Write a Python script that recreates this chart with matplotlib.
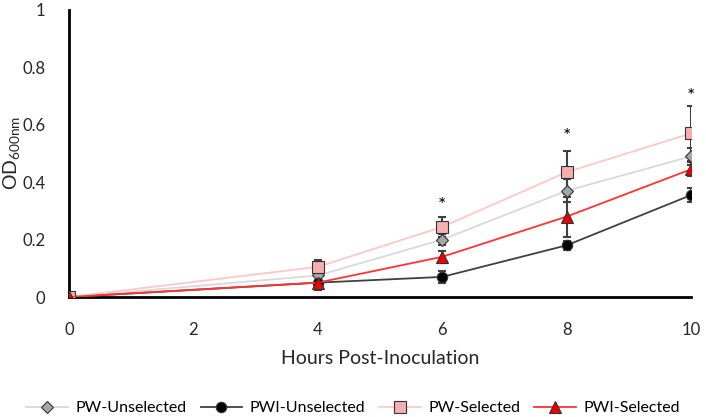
import matplotlib
matplotlib.use("Agg")
import matplotlib.pyplot as plt

plt.rcParams['font.family'] = ['Lato', 'DejaVu Sans']

hours = [0, 4, 6, 8, 10]
series_names = ["PW-Unselected", "PWI-Unselected", "PW-Selected", "PWI-Selected"]
pw_unsel = [0.0, 0.075, 0.20, 0.37, 0.49]
pw_unsel_err = [0.0, 0.02, 0.02, 0.04, 0.03]
pwi_unsel = [0.0, 0.05, 0.07, 0.18, 0.355]
pwi_unsel_err = [0.0, 0.01, 0.02, 0.015, 0.025]
pw_sel = [0.0, 0.105, 0.244, 0.435, 0.57]
pw_sel_err = [0.0, 0.025, 0.035, 0.075, 0.095]
pwi_sel = [0.0, 0.05, 0.14, 0.28, 0.445]
pwi_sel_err = [0.0, 0.025, 0.02, 0.07, 0.025]
star_hours = [6, 8, 10]
star_y = [0.32, 0.56, 0.70]

fig = plt.figure(figsize=(7.06, 4.17), dpi=100)
ax = fig.add_axes([69/706, 1 - 297/417, 622/706, 287/417])

styles = [
    (pw_unsel, pw_unsel_err, "#d9d9d9", "D", "#a6a6a6", 6),
    (pwi_unsel, pwi_unsel_err, "#404040", "o", "black", 7.5),
    (pw_sel, pw_sel_err, "#ffc7c7", "s", "#f4b0b0", 8),
    (pwi_sel, pwi_sel_err, "#ff3333", "^", "#ee0000", 8),
]
for (vals, errs, lc, mk, mc, ms), name in zip(styles, series_names):
    ax.errorbar(hours, vals, yerr=errs, fmt='none', ecolor='#404040',
                elinewidth=1.5, capsize=3, capthick=1.5, zorder=2)
    ax.plot(hours, vals, color=lc, lw=1.3, marker=mk, markersize=ms,
            markerfacecolor=mc, markeredgecolor='#333333', markeredgewidth=0.8,
            label=name, zorder=3)

for h, y in zip(star_hours, star_y):
    ax.text(h, y, "*", ha='center', va='center', fontsize=14)

ax.set_xlim(0, 10)
ax.set_ylim(0, 1)
ax.set_xticks([0, 2, 4, 6, 8, 10])
ax.set_yticks([0, 0.2, 0.4, 0.6, 0.8, 1])
ax.set_yticklabels(["0", "0.2", "0.4", "0.6", "0.8", "1"])
ax.tick_params(length=0, labelsize=12, colors='#262626')
ax.tick_params(axis='x', pad=18)
ax.tick_params(axis='y', pad=17)
for s in ['top', 'right']:
    ax.spines[s].set_visible(False)
for s in ['left', 'bottom']:
    ax.spines[s].set_linewidth(2)
    ax.spines[s].set_color('black')
for t in ax.get_xticklabels() + ax.get_yticklabels():
    t.set_clip_on(False)

ax.set_xlabel("Hours Post-Inoculation", fontsize=14, color='#262626', labelpad=9)
fig.text(12/706, 1 - 153/417, r"OD$_{\mathregular{600nm}}$", fontsize=14,
         color='#262626', rotation=90, ha='center', va='center')

fig.legend(loc='center', bbox_to_anchor=(0.5, 1 - 408/417), ncol=4,
           frameon=False, fontsize=11.5, handlelength=2.6, columnspacing=0.9,
           handletextpad=0.45, borderpad=0, borderaxespad=0)

fig.savefig("out.png", dpi=100)
